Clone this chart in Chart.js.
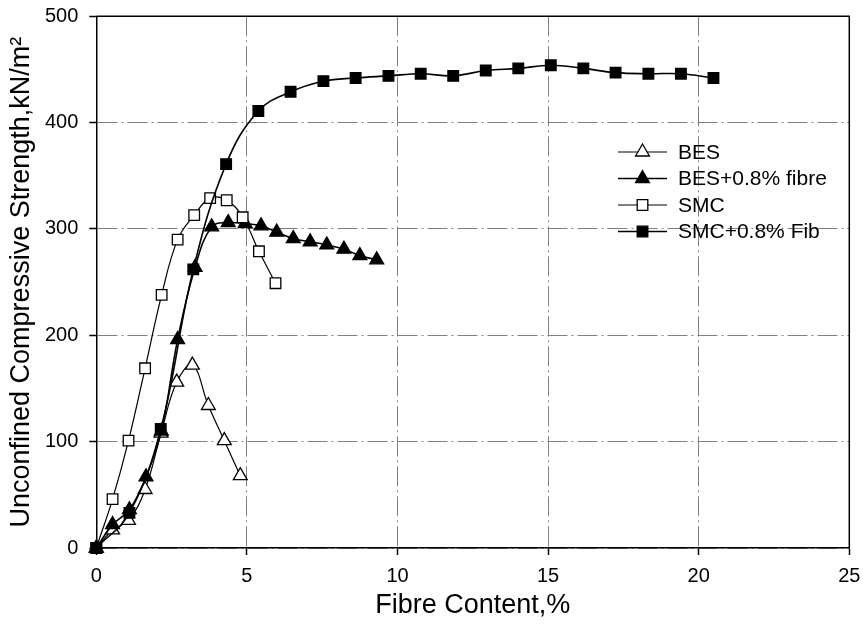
<!DOCTYPE html>
<html>
<head>
<meta charset="utf-8">
<script src="https://cdn.jsdelivr.net/npm/chart.js@4.4.1/dist/chart.umd.min.js"></script>
<style>
html,body{margin:0;padding:0;background:#fff;}
#wrap{width:863px;height:626px;}
</style>
</head>
<body>
<div id="wrap"><canvas id="c" width="863" height="626"></canvas></div>
<script>
// ---- data ----
const seriesNames = ["BES", "BES+0.8% fibre", "SMC", "SMC+0.8% Fib"];

const besX = [0, 0.54, 1.07, 1.62, 2.15, 2.67, 3.19, 3.72, 4.25, 4.78];
const besY = [0, 17, 26, 55, 108, 156, 172, 134, 101, 68];

const besFibX = [0, 0.54, 1.10, 1.65, 2.16, 2.70, 3.28, 3.83, 4.38, 4.94, 5.47, 5.99, 6.54, 7.10, 7.65, 8.22, 8.75, 9.31];
const besFibY = [0, 22, 36, 67, 110, 196, 264, 302, 306, 305, 303, 297, 291, 288, 285, 281, 275, 271];

const smcX = [0, 0.54, 1.07, 1.62, 2.17, 2.70, 3.25, 3.78, 4.33, 4.86, 5.40, 5.95];
const smcY = [0, 46, 101, 169, 238, 290, 313, 329, 327, 311, 279, 249];

const smcFibX = [0, 1.10, 2.14, 3.22, 4.31, 5.38, 6.45, 7.54, 8.61, 9.70, 10.77, 11.85, 12.93, 14.01, 15.09, 16.17, 17.24, 18.33, 19.41, 20.49];
const smcFibY = [0, 33, 112, 262, 361, 411, 429, 439, 442, 444, 446, 444, 449, 451, 454, 451, 447, 446, 446, 442];

const xTicks = [0, 5, 10, 15, 20, 25];
const yTicks = [0, 100, 200, 300, 400, 500];

const xTitle = "Fibre Content,%";
const yTitle = "Unconfined Compressive Strength,kN/m\u00B2";

function pts(xs, ys){ return xs.map((x,i)=>({x:x, y:ys[i]})); }

const FONT = "'Liberation Sans', Arial, sans-serif";

const styles = [
  {pointStyle:'triangle', bg:'#ffffff', r:8, lw:1.2, order:3},
  {pointStyle:'triangle', bg:'#000000', r:8, lw:1.6, order:2},
  {pointStyle:'rect', bg:'#ffffff', r:7.5, lw:1.2, order:1},
  {pointStyle:'rect', bg:'#000000', r:7.5, lw:1.6, order:0}
];
const dataSets = [pts(besX,besY), pts(besFibX,besFibY), pts(smcX,smcY), pts(smcFibX,smcFibY)];

const datasets = dataSets.map((d,i)=>({
  label: seriesNames[i],
  data: d,
  borderColor:'#000',
  borderWidth: styles[i].lw,
  backgroundColor: styles[i].bg,
  pointStyle: styles[i].pointStyle,
  pointRadius: styles[i].r,
  pointBackgroundColor: styles[i].bg,
  pointBorderColor:'#000',
  pointBorderWidth:1.3,
  tension:0.4,
  clip:false,
  order: styles[i].order,
  fill:false
}));

function drawMarker(ctx, style, x, y){
  ctx.save();
  ctx.fillStyle = style.bg;
  ctx.strokeStyle = '#000';
  ctx.lineWidth = 1.3;
  ctx.beginPath();
  if(style.pointStyle==='rect'){
    const s = Math.SQRT1_2*style.r;
    ctx.rect(x-s, y-s, 2*s, 2*s);
  } else {
    const r = style.r;
    let a = 0;
    ctx.moveTo(x+Math.sin(a)*r, y-Math.cos(a)*r);
    a += 2*Math.PI/3;
    ctx.lineTo(x+Math.sin(a)*r, y-Math.cos(a)*r);
    a += 2*Math.PI/3;
    ctx.lineTo(x+Math.sin(a)*r, y-Math.cos(a)*r);
    ctx.closePath();
  }
  ctx.fill();
  ctx.stroke();
  ctx.restore();
}

const framePlugin = {
  id:'frame',
  afterDatasetsDraw(chart){
    const {ctx, chartArea:a} = chart;
    ctx.save();
    ctx.strokeStyle = '#000';
    ctx.lineWidth = 1.5;
    ctx.beginPath();
    ctx.moveTo(a.left, a.top);
    ctx.lineTo(a.right, a.top);
    ctx.lineTo(a.right, a.bottom);
    ctx.stroke();
    ctx.restore();
  },
  afterDraw(chart){
    // legend
    const ctx = chart.ctx;
    const x0 = 618, x1 = 667, tx = 678;
    const rows = [152, 178.5, 205, 231.5];
    ctx.save();
    ctx.font = "21px " + FONT;
    ctx.textBaseline = 'middle';
    ctx.textAlign = 'left';
    ctx.fillStyle = '#000';
    chart.data.datasets.forEach((ds,i)=>{
      const y = rows[i];
      ctx.strokeStyle = '#000';
      ctx.lineWidth = ds.borderWidth;
      ctx.beginPath();
      ctx.moveTo(x0, y); ctx.lineTo(x1, y);
      ctx.stroke();
      drawMarker(ctx, styles[i], (x0+x1)/2, y);
      ctx.fillText(ds.label, tx, y+1);
    });
    ctx.restore();
  }
};

new Chart(document.getElementById('c'), {
  type:'line',
  data:{datasets: datasets},
  plugins:[framePlugin],
  options:{
    responsive:false,
    animation:false,
    devicePixelRatio:1,
    layout:{padding:{left:0, right:13.7, top:16.3, bottom:0}},
    plugins:{legend:{display:false}, tooltip:{enabled:false}},
    scales:{
      x:{
        type:'linear',
        min:0, max:25,
        afterBuildTicks(scale){ scale.ticks = xTicks.map(v=>({value:v})); },
        afterFit(scale){ scale.height = 626-548; scale.paddingLeft = 0; scale.paddingRight = 0; },
        ticks:{color:'#000', font:{family:FONT, size:20}, padding:9, maxRotation:0},
        grid:{color:'#808080', lineWidth:1, tickColor:'#000', tickLength:7, tickWidth:1.5},
        border:{color:'#000', width:1.5, dash:[20,4,2,4]},
        title:{display:true, text:xTitle, color:'#000', font:{family:FONT, size:27}, padding:{top:4, bottom:4}}
      },
      y:{
        type:'linear',
        min:0, max:500,
        afterBuildTicks(scale){ scale.ticks = yTicks.map(v=>({value:v})); },
        afterFit(scale){ scale.width = 96.3; scale.paddingTop = 0; scale.paddingBottom = 0; },
        ticks:{color:'#000', font:{family:FONT, size:20}, padding:11},
        grid:{color:'#808080', lineWidth:1, tickColor:'#000', tickLength:7, tickWidth:1.5},
        border:{color:'#000', width:1.5, dash:[20,4,2,4]},
        title:{display:true, text:yTitle, color:'#000', font:{family:FONT, size:27}, padding:{top:5, bottom:4}}
      }
    }
  }
});
</script>
</body>
</html>
